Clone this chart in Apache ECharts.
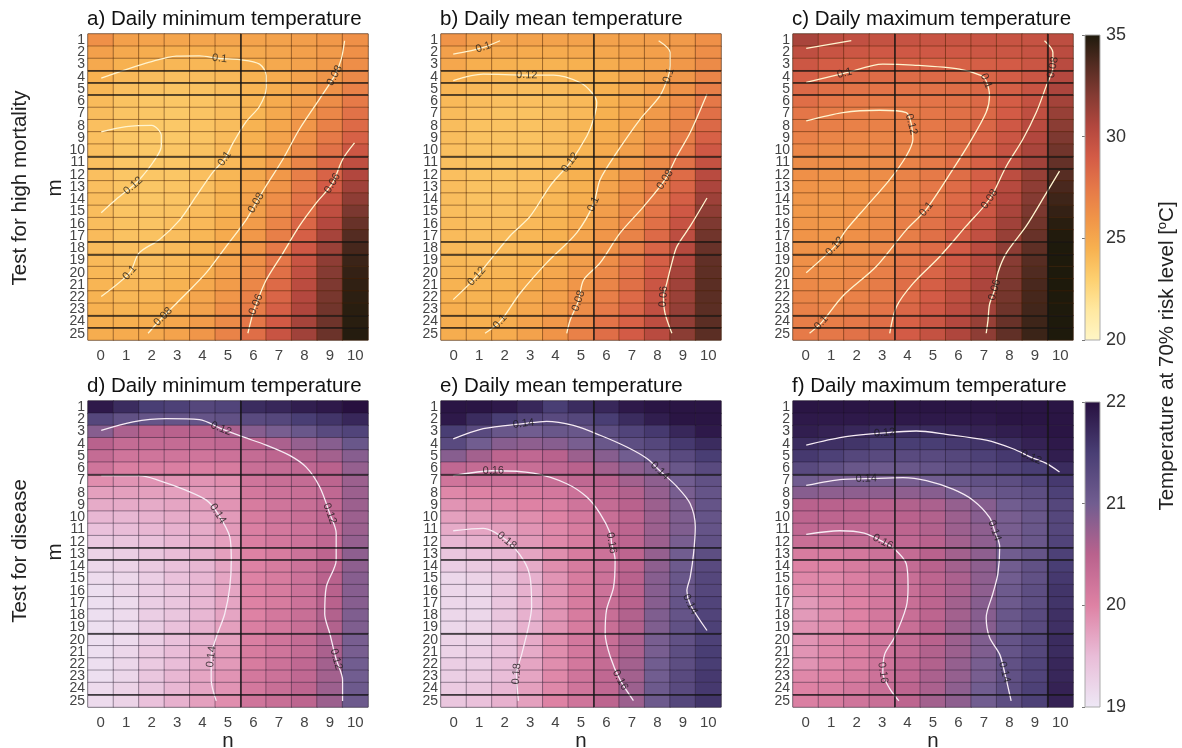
<!DOCTYPE html>
<html><head><meta charset="utf-8">
<script src="https://cdn.jsdelivr.net/npm/echarts@6/dist/echarts.min.js"></script>
<style>html,body{margin:0;padding:0;background:#fff}#c{width:1182px;height:748px}</style>
</head><body><div id="c"></div>
<script>
const nLabels = ['0','1','2','3','4','5','6','7','8','9','10'];
const mLabels = ['1','2','3','4','5','6','7','8','9','10','11','12','13','14','15','16','17','18','19','20','21','22','23','24','25'];
const panelTitles = ['a) Daily minimum temperature','b) Daily mean temperature','c) Daily maximum temperature','d) Daily minimum temperature','e) Daily mean temperature','f) Daily maximum temperature'];
const topTicks = [20,35,5];
const botTicks = [19,22,1];
const colorsTop = ['#FFF6C6','#FFE8A0','#FDD070','#F7B150','#F09448','#E57848','#D35B46','#B2473E','#853B33','#542C22','#1E1A0C'];
const colorsBottom = ['#EEE8F6','#E9BDD8','#DE82A4','#B9628D','#715D90','#493E74','#27103F'];

// rows m=1..25, columns n=0..10
const tminMortality = [
[26.2,25.4,25.2,25.1,25.1,25.1,25.2,25.3,25.5,25.8,26.2],
[25.4,24.9,24.7,24.6,24.6,24.7,24.9,25.1,25.4,25.7,26.2],
[24.9,24.5,24.3,24.2,24.2,24.4,24.6,24.9,25.3,25.7,26.3],
[24.5,24.1,23.9,23.8,23.9,24.1,24.4,24.8,25.3,25.9,26.6],
[24.2,23.8,23.7,23.6,23.7,23.9,24.3,24.7,25.3,26.1,27.0],
[24.0,23.7,23.5,23.5,23.6,23.9,24.3,24.8,25.5,26.4,27.4],
[23.9,23.6,23.5,23.4,23.6,23.9,24.3,24.9,25.7,26.7,27.8],
[23.8,23.5,23.4,23.4,23.6,23.9,24.4,25.0,25.9,27.0,28.2],
[23.8,23.5,23.4,23.4,23.6,24.0,24.5,25.2,26.2,27.4,28.7],
[23.8,23.5,23.4,23.5,23.7,24.1,24.6,25.4,26.5,27.8,29.3],
[23.8,23.5,23.4,23.5,23.7,24.1,24.7,25.6,26.8,28.2,29.9],
[23.8,23.5,23.5,23.5,23.8,24.2,24.9,25.8,27.1,28.6,30.5],
[23.8,23.6,23.5,23.6,23.8,24.3,25.0,26.0,27.4,29.0,31.1],
[23.9,23.6,23.5,23.6,23.9,24.4,25.2,26.3,27.7,29.5,31.7],
[23.9,23.6,23.6,23.7,24.0,24.5,25.4,26.5,28.0,29.9,32.3],
[23.9,23.7,23.6,23.8,24.1,24.7,25.6,26.8,28.4,30.4,32.9],
[24.0,23.7,23.7,23.9,24.2,24.8,25.8,27.1,28.8,30.9,33.5],
[24.0,23.8,23.8,24.0,24.4,25.0,26.0,27.4,29.2,31.3,33.9],
[24.1,23.9,23.9,24.1,24.5,25.2,26.2,27.6,29.5,31.7,34.2],
[24.2,24.0,24.0,24.2,24.7,25.4,26.4,27.9,29.8,32.0,34.4],
[24.3,24.1,24.1,24.4,24.9,25.6,26.7,28.2,30.1,32.2,34.5],
[24.4,24.2,24.3,24.6,25.1,25.9,27.0,28.5,30.4,32.4,34.6],
[24.5,24.4,24.5,24.8,25.3,26.2,27.3,28.8,30.6,32.6,34.7],
[24.6,24.6,24.7,25.0,25.6,26.5,27.6,29.1,30.9,32.7,34.7],
[24.7,24.8,24.9,25.2,25.9,26.9,28.0,29.5,31.1,32.8,34.8]];
const tmeanMortality = [
[26.0,25.5,25.3,25.3,25.3,25.3,25.3,25.4,25.5,25.7,26.2],
[25.4,25.0,24.9,24.8,24.8,24.9,25.0,25.2,25.4,25.7,26.3],
[25.0,24.6,24.5,24.4,24.4,24.5,24.7,25.0,25.3,25.8,26.5],
[24.6,24.3,24.2,24.1,24.1,24.3,24.5,24.9,25.3,25.9,26.8],
[24.3,24.1,24.0,23.9,24.0,24.2,24.5,24.9,25.4,26.1,27.1],
[24.1,23.9,23.8,23.8,23.9,24.1,24.5,24.9,25.5,26.3,27.5],
[24.0,23.8,23.7,23.7,23.9,24.1,24.5,25.0,25.7,26.6,27.9],
[23.9,23.7,23.7,23.7,23.9,24.2,24.6,25.1,25.9,26.9,28.3],
[23.9,23.7,23.7,23.7,23.9,24.2,24.7,25.3,26.1,27.2,28.7],
[23.8,23.7,23.7,23.7,23.9,24.3,24.8,25.4,26.3,27.5,29.2],
[23.8,23.7,23.7,23.8,24.0,24.4,24.9,25.6,26.5,27.8,29.7],
[23.8,23.7,23.7,23.8,24.0,24.5,25.0,25.8,26.8,28.1,30.2],
[23.9,23.7,23.7,23.8,24.1,24.5,25.2,26.0,27.0,28.5,30.7],
[23.9,23.7,23.8,23.9,24.2,24.6,25.3,26.2,27.3,28.8,31.2],
[23.9,23.8,23.8,24.0,24.3,24.8,25.5,26.4,27.6,29.2,31.7],
[24.0,23.8,23.9,24.1,24.4,24.9,25.7,26.6,27.9,29.6,32.2],
[24.0,23.9,24.0,24.2,24.5,25.1,25.9,26.9,28.2,30.0,32.6],
[24.1,24.0,24.1,24.3,24.7,25.3,26.1,27.1,28.5,30.3,32.9],
[24.2,24.1,24.2,24.4,24.8,25.5,26.3,27.4,28.8,30.6,33.1],
[24.3,24.2,24.3,24.6,25.0,25.7,26.6,27.7,29.1,30.9,33.2],
[24.4,24.3,24.4,24.7,25.2,25.9,26.8,27.9,29.4,31.1,33.3],
[24.5,24.4,24.5,24.9,25.4,26.2,27.1,28.2,29.6,31.3,33.3],
[24.6,24.5,24.6,25.0,25.6,26.4,27.4,28.5,29.8,31.5,33.3],
[24.7,24.6,24.7,25.2,25.8,26.7,27.7,28.7,30.0,31.6,33.3],
[24.7,24.7,24.8,25.3,26.0,27.0,28.0,29.0,30.2,31.8,33.3]];
const tmaxMortality = [
[30.8,30.0,29.8,29.7,29.6,29.5,29.5,29.5,29.5,29.6,30.0],
[29.9,29.5,29.3,29.2,29.2,29.2,29.2,29.3,29.4,29.6,30.1],
[29.3,28.9,28.7,28.6,28.6,28.6,28.7,28.8,29.0,29.4,30.2],
[28.8,28.4,28.2,28.1,28.1,28.2,28.3,28.5,28.9,29.4,30.4],
[28.3,27.9,27.7,27.7,27.7,27.8,28.0,28.3,28.8,29.5,30.7],
[28.0,27.6,27.4,27.4,27.5,27.7,27.9,28.3,28.9,29.7,31.0],
[27.6,27.3,27.2,27.2,27.3,27.6,27.9,28.3,29.0,29.9,31.4],
[27.3,27.1,27.0,27.0,27.2,27.5,27.9,28.4,29.2,30.2,31.8],
[27.0,26.8,26.7,26.8,27.0,27.4,27.9,28.5,29.4,30.5,32.2],
[26.7,26.5,26.5,26.7,26.9,27.4,27.9,28.6,29.6,30.8,32.6],
[26.4,26.3,26.3,26.5,26.9,27.4,28.0,28.7,29.8,31.1,33.0],
[26.2,26.1,26.1,26.4,26.9,27.4,28.0,28.8,30.0,31.4,33.4],
[26.0,25.9,26.0,26.3,26.9,27.5,28.1,29.0,30.3,31.7,33.8],
[25.9,25.8,26.0,26.3,26.9,27.5,28.2,29.1,30.5,32.0,34.1],
[25.8,25.8,26.0,26.4,27.0,27.6,28.4,29.3,30.8,32.3,34.4],
[25.9,25.8,26.1,26.5,27.1,27.8,28.6,29.6,31.1,32.6,34.7],
[26.0,25.9,26.2,26.6,27.2,27.9,28.8,29.8,31.4,32.9,34.9],
[26.1,26.0,26.3,26.7,27.4,28.1,29.0,30.1,31.7,33.2,35.0],
[26.2,26.2,26.5,26.9,27.6,28.3,29.2,30.3,31.9,33.4,35.0],
[26.4,26.3,26.6,27.1,27.8,28.5,29.4,30.5,32.1,33.6,35.0],
[26.6,26.5,26.8,27.3,28.0,28.8,29.7,30.7,32.3,33.8,35.0],
[26.8,26.7,27.0,27.5,28.2,29.0,29.9,30.9,32.5,33.9,35.0],
[27.0,26.9,27.2,27.7,28.4,29.2,30.1,31.1,32.7,34.0,35.0],
[27.2,27.2,27.5,28.0,28.7,29.4,30.4,31.4,32.9,34.1,35.0],
[27.4,27.5,27.8,28.3,29.0,29.7,30.6,31.7,33.1,34.2,35.0]];
const tminDisease = [
[21.9,21.7,21.5,21.45,21.35,21.4,21.7,21.75,21.85,21.9,22.0],
[21.35,21.2,21.15,21.15,21.15,21.2,21.3,21.35,21.5,21.6,21.75],
[20.85,20.6,20.5,20.5,20.5,20.6,20.85,20.95,21.1,21.3,21.4],
[20.5,20.35,20.35,20.35,20.35,20.4,20.5,20.6,20.75,20.85,21.1],
[20.35,20.2,20.2,20.2,20.2,20.25,20.35,20.45,20.55,20.65,20.85],
[20.2,20.05,20.05,20.05,20.05,20.1,20.3,20.35,20.4,20.5,20.75],
[19.9,19.85,19.85,19.85,19.85,19.9,20.2,20.3,20.35,20.45,20.7],
[19.75,19.75,19.75,19.75,19.8,19.85,20.15,20.25,20.3,20.4,20.7],
[19.65,19.65,19.65,19.7,19.75,19.85,20.1,20.2,20.3,20.4,20.7],
[19.55,19.55,19.6,19.65,19.7,19.8,20.1,20.2,20.3,20.4,20.7],
[19.45,19.5,19.55,19.6,19.65,19.8,20.05,20.15,20.25,20.4,20.7],
[19.35,19.4,19.45,19.55,19.65,19.75,20.05,20.15,20.25,20.4,20.75],
[19.25,19.3,19.4,19.5,19.6,19.75,20.0,20.1,20.25,20.45,20.8],
[19.2,19.25,19.35,19.45,19.55,19.7,20.0,20.1,20.25,20.45,20.8],
[19.15,19.2,19.3,19.45,19.55,19.7,20.0,20.1,20.25,20.5,20.85],
[19.1,19.2,19.3,19.4,19.55,19.7,20.0,20.1,20.25,20.5,20.85],
[19.1,19.15,19.3,19.4,19.55,19.7,20.0,20.1,20.25,20.5,20.85],
[19.1,19.15,19.3,19.4,19.55,19.7,20.0,20.15,20.3,20.55,20.9],
[19.1,19.15,19.3,19.45,19.6,19.75,20.05,20.15,20.3,20.55,20.9],
[19.1,19.15,19.3,19.45,19.6,19.75,20.05,20.2,20.35,20.6,20.95],
[19.1,19.2,19.35,19.5,19.65,19.8,20.1,20.2,20.35,20.6,20.95],
[19.1,19.2,19.35,19.5,19.65,19.8,20.1,20.25,20.4,20.65,21.0],
[19.1,19.2,19.4,19.55,19.7,19.85,20.15,20.25,20.4,20.65,21.0],
[19.15,19.25,19.4,19.55,19.7,19.85,20.15,20.3,20.45,20.7,21.05],
[19.15,19.25,19.45,19.6,19.75,19.9,20.2,20.3,20.45,20.7,21.05]];
const tmeanDisease = [
[21.95,21.95,21.9,21.75,21.5,21.7,21.75,21.9,21.95,21.95,21.95],
[21.9,21.7,21.5,21.35,21.3,21.35,21.5,21.7,21.85,21.95,21.95],
[21.5,21.3,21.1,21.0,21.1,21.1,21.25,21.4,21.55,21.75,21.9],
[21.3,21.0,20.85,20.8,20.85,20.95,21.1,21.25,21.35,21.55,21.7],
[20.85,20.65,20.45,20.4,20.5,20.7,20.85,21.0,21.15,21.3,21.5],
[20.4,20.35,20.3,20.3,20.4,20.5,20.65,20.8,20.9,21.1,21.3],
[20.2,20.25,20.25,20.25,20.3,20.4,20.5,20.65,20.8,21.0,21.2],
[19.95,20.0,20.05,20.1,20.15,20.25,20.4,20.55,20.75,20.95,21.15],
[19.85,19.9,19.95,20.0,20.05,20.2,20.35,20.5,20.7,20.9,21.15],
[19.75,19.8,19.85,19.9,20.0,20.15,20.3,20.45,20.7,20.9,21.15],
[19.65,19.7,19.75,19.85,19.95,20.1,20.3,20.45,20.7,20.9,21.15],
[19.55,19.6,19.7,19.8,19.95,20.1,20.3,20.45,20.7,20.95,21.2],
[19.4,19.45,19.55,19.7,19.9,20.1,20.25,20.45,20.75,21.0,21.25],
[19.3,19.35,19.45,19.65,19.9,20.1,20.25,20.45,20.8,21.05,21.3],
[19.2,19.25,19.4,19.6,19.85,20.1,20.25,20.5,20.85,21.1,21.35],
[19.2,19.2,19.4,19.6,19.85,20.1,20.25,20.5,20.85,21.1,21.35],
[19.2,19.2,19.4,19.6,19.85,20.1,20.3,20.5,20.85,21.15,21.4],
[19.2,19.2,19.4,19.6,19.85,20.1,20.3,20.55,20.9,21.15,21.4],
[19.2,19.25,19.4,19.6,19.85,20.1,20.3,20.55,20.9,21.2,21.45],
[19.25,19.25,19.45,19.65,19.9,20.15,20.3,20.6,20.95,21.2,21.45],
[19.25,19.3,19.45,19.65,19.9,20.15,20.35,20.6,20.95,21.25,21.5],
[19.3,19.3,19.5,19.7,19.9,20.15,20.35,20.65,21.0,21.25,21.5],
[19.3,19.35,19.5,19.7,19.95,20.2,20.4,20.65,21.0,21.3,21.55],
[19.35,19.4,19.55,19.75,19.95,20.2,20.4,20.7,21.05,21.3,21.55],
[19.4,19.45,19.6,19.75,20.0,20.2,20.45,20.7,21.05,21.35,21.6]];
const tmaxDisease = [
[21.95,21.95,21.95,21.95,21.95,21.95,21.95,21.95,21.95,21.95,21.95],
[21.9,21.9,21.9,21.9,21.9,21.9,21.9,21.9,21.95,21.95,21.95],
[21.85,21.8,21.75,21.7,21.7,21.7,21.75,21.8,21.85,21.9,21.95],
[21.7,21.65,21.6,21.5,21.5,21.5,21.55,21.6,21.7,21.8,21.9],
[21.55,21.45,21.35,21.3,21.3,21.3,21.35,21.45,21.55,21.7,21.85],
[21.3,21.2,21.1,21.05,21.1,21.15,21.25,21.3,21.4,21.5,21.7],
[21.0,20.95,20.95,20.95,20.95,21.0,21.1,21.2,21.25,21.4,21.55],
[20.85,20.8,20.8,20.8,20.8,20.85,20.95,21.05,21.15,21.25,21.45],
[20.5,20.5,20.5,20.5,20.55,20.6,20.75,20.85,21.0,21.15,21.35],
[20.45,20.45,20.45,20.45,20.5,20.55,20.7,20.85,20.95,21.1,21.35],
[20.4,20.4,20.4,20.4,20.45,20.55,20.7,20.8,20.95,21.1,21.35],
[20.3,20.3,20.35,20.35,20.4,20.5,20.65,20.8,20.95,21.1,21.4],
[20.1,20.1,20.15,20.25,20.35,20.5,20.65,20.8,21.0,21.15,21.45],
[20.0,20.0,20.1,20.2,20.35,20.5,20.65,20.8,21.0,21.2,21.5],
[19.95,19.95,20.05,20.2,20.3,20.45,20.6,20.8,21.0,21.2,21.55],
[19.9,19.95,20.05,20.15,20.3,20.45,20.6,20.8,21.05,21.25,21.6],
[19.8,19.9,20.0,20.15,20.3,20.45,20.65,20.85,21.05,21.25,21.6],
[19.8,19.9,20.0,20.15,20.3,20.45,20.65,20.85,21.1,21.3,21.65],
[19.85,19.9,20.0,20.15,20.3,20.5,20.7,20.85,21.1,21.3,21.65],
[19.85,19.95,20.05,20.2,20.35,20.5,20.7,20.9,21.15,21.35,21.7],
[19.85,19.95,20.05,20.2,20.35,20.55,20.7,20.9,21.15,21.35,21.7],
[19.85,19.95,20.05,20.2,20.4,20.55,20.75,20.95,21.2,21.4,21.75],
[19.95,20.0,20.1,20.25,20.4,20.6,20.75,20.95,21.2,21.4,21.75],
[20.0,20.05,20.15,20.3,20.45,20.6,20.8,21.0,21.25,21.45,21.8],
[20.05,20.1,20.2,20.3,20.45,20.65,20.8,21.0,21.25,21.45,21.8]];

// contour lines: points as [n, m]; labels = indices of points carrying the level label
const contoursA = [
 {level:'0.1', pts:[[0.02,4.1],[0.87,3.5],[1.92,2.8],[2.97,2.3],[3.88,2.28],[4.67,2.5],[5.46,2.6],[6.24,2.96],[6.5,3.9],[6.5,4.9],[6.24,6.4],[5.7,7.7],[5.2,9.4],[4.87,10.7],[4.4,11.8],[3.75,13.75],[3.1,15.7],[2.3,17.3],[1.5,18.4],[1.14,20.0],[0.02,21.95]], labels:[5,13,19]},
 {level:'0.12', pts:[[0.02,8.5],[1.0,8.07],[2.0,7.96],[2.38,8.8],[2.38,9.65],[2.05,11.0],[1.6,12.2],[1.27,12.9],[0.61,14.0],[0.02,15.1]], labels:[7]},
 {level:'0.08', pts:[[1.86,24.95],[2.45,23.6],[3.36,21.7],[4.15,20.0],[4.93,17.85],[5.72,15.66],[6.1,14.3],[6.5,12.9],[7.15,10.75],[7.8,8.3],[8.6,5.8],[9.19,3.9],[9.45,2.55],[9.58,1.05]], labels:[1,6,11]},
 {level:'0.06', pts:[[5.78,24.95],[5.98,23.3],[6.1,22.6],[6.5,20.6],[7.16,18.4],[7.8,16.2],[8.47,14.3],[9.1,12.7],[9.5,10.75],[9.97,9.4]], labels:[2,7]}
];
const contoursB = [
 {level:'0.1', pts:[[-0.02,2.14],[0.6,1.9],[1.16,1.6],[1.82,1.05]], labels:[2]},
 {level:'0.12', pts:[[-0.02,4.3],[1.16,3.78],[2.87,3.86],[3.92,3.86],[4.96,4.46],[5.42,5.28],[5.62,6.1],[5.49,7.47],[5.23,8.83],[4.57,11.0],[3.79,12.9],[3.0,15.4],[2.21,17.0],[0.9,20.3],[-0.02,22.2]], labels:[2,9,13]},
 {level:'0.1', pts:[[8.05,1.05],[8.5,2.0],[8.5,3.1],[8.44,3.9],[8.1,5.55],[7.32,7.47],[6.4,10.2],[5.75,12.4],[5.49,14.4],[4.83,16.75],[3.65,19.2],[2.6,21.7],[1.82,24.0],[1.23,24.95]], labels:[3,8,12]},
 {level:'0.08', pts:[[9.95,5.4],[9.29,8.55],[8.77,10.47],[8.3,12.4],[7.46,14.6],[6.54,16.75],[5.75,19.2],[5.1,20.6],[4.9,22.3],[4.57,23.9],[4.44,24.95]], labels:[3,8]},
 {level:'0.06', pts:[[9.95,13.9],[9.29,16.2],[8.77,17.85],[8.57,19.2],[8.37,20.85],[8.24,21.95],[8.3,23.3],[8.57,24.95]], labels:[5]}
];
const contoursC = [
 {level:'0.12', pts:[[0.02,1.67],[1.79,1.05]], labels:[]},
 {level:'0.1', pts:[[0.02,4.46],[1.53,3.7],[3.03,2.96],[4.21,3.04],[6.04,3.37],[6.9,3.9],[7.09,4.33],[7.22,5.55],[7.09,6.9],[6.44,9.38],[5.78,11.56],[4.74,14.8],[3.95,16.5],[2.77,19.5],[1.46,21.9],[0.61,24.1],[0.15,24.95]], labels:[1,6,11,15]},
 {level:'0.12', pts:[[0.02,7.6],[1.46,6.92],[2.9,6.73],[3.95,6.92],[4.15,7.88],[4.21,9.1],[3.95,10.47],[3.3,12.4],[2.38,14.6],[1.59,16.5],[1.14,17.85],[0.02,20.0]], labels:[4,10]},
 {level:'0.08', pts:[[9.38,1.05],[9.71,2.0],[9.71,3.23],[9.45,4.74],[9.06,6.9],[8.53,9.1],[7.88,11.3],[7.22,14.0],[6.3,16.2],[5.26,18.7],[4.21,20.9],[3.56,22.8],[3.3,24.95]], labels:[2,7]},
 {level:'0.06', pts:[[9.97,11.7],[9.45,13.5],[8.66,16.2],[7.88,18.4],[7.55,20.0],[7.42,21.4],[7.22,22.6],[7.16,23.9],[7.09,24.95]], labels:[5]}
];
const contoursD = [
 {level:'0.12', pts:[[0.02,2.9],[1.27,2.2],[2.58,1.94],[3.88,2.03],[4.73,2.76],[5.59,3.44],[6.5,4.1],[7.42,4.94],[8.07,5.9],[8.6,7.5],[9.0,9.7],[9.25,11.3],[9.25,13.5],[8.86,15.7],[8.8,17.9],[9.0,19.5],[9.25,21.6],[9.5,23.3],[9.5,25.0]], labels:[4,10,16]},
 {level:'0.14', pts:[[0.02,6.6],[1.53,6.6],[2.3,7.0],[3.36,7.8],[4.15,8.6],[4.6,9.7],[5.07,11.6],[5.13,13.5],[5.07,15.7],[4.87,17.9],[4.54,19.8],[4.34,21.4],[4.34,23.3],[4.54,25.0]], labels:[5,11]}
];
const contoursE = [
 {level:'0.14', pts:[[-0.02,3.6],[1.16,2.76],[2.74,2.35],[3.65,2.16],[4.7,2.5],[5.75,3.3],[6.8,4.26],[7.59,5.2],[8.1,6.2],[8.77,7.5],[9.29,8.9],[9.49,10.8],[9.42,13.0],[9.29,14.9],[9.16,16.0],[9.29,17.1],[9.95,19.25]], labels:[2,8,15]},
 {level:'0.16', pts:[[-0.02,6.6],[1.56,6.2],[3.13,6.4],[4.44,7.26],[5.23,8.35],[5.75,9.7],[6.15,11.3],[6.2,12.1],[6.34,13.5],[6.28,15.7],[6.0,17.6],[5.95,19.5],[6.15,21.4],[6.54,23.3],[7.06,24.97]], labels:[1,7,13]},
 {level:'0.18', pts:[[-0.02,11.1],[1.16,10.9],[2.08,11.9],[2.74,13.5],[3.0,14.9],[3.06,17.3],[2.93,19.0],[2.67,21.2],[2.47,22.8],[2.54,25.0]], labels:[2,8]}
];
const contoursF = [
 {level:'0.12', pts:[[0.02,4.1],[1.46,3.45],[3.1,3.1],[4.34,2.95],[5.52,3.22],[7.09,3.7],[8.14,4.4],[8.86,5.1],[9.45,5.6],[9.97,6.3]], labels:[2,7]},
 {level:'0.14', pts:[[0.02,7.4],[1.46,6.9],[2.38,6.85],[3.82,6.76],[4.74,7.0],[5.78,7.7],[6.57,8.6],[7.22,10.0],[7.42,11.1],[7.62,12.4],[7.55,14.6],[7.35,16.25],[7.09,18.2],[7.22,19.8],[7.62,21.2],[7.81,22.65],[8.07,25.0]], labels:[2,8,15]},
 {level:'0.16', pts:[[0.02,11.4],[1.33,11.1],[2.3,11.3],[3.03,12.0],[3.49,12.6],[3.95,13.8],[4.02,15.7],[3.95,17.3],[3.49,19.8],[3.1,21.2],[3.03,22.7],[3.3,24.0],[3.66,25.0]], labels:[3,10]}
];
// darker (resampled) cell boundaries: row boundary after m=k, column boundary after n=c
const darkRowsTop = [3,4,5,10,11,17,18,23,24];
const darkRowsBottom = [6,12,13,19,24];
const darkCols = [[5],[5],[3,9],[5],[5],[3,9]];

const FONT = '"Liberation Sans", Arial, Helvetica, sans-serif';
const colX = [88, 441, 793], rowY = [34, 401], W = 280, H = 306;
const CBX = 1085, CBW = 15;

const panels = [
 {data:tminMortality, contours:contoursA},
 {data:tmeanMortality, contours:contoursB},
 {data:tmaxMortality, contours:contoursC},
 {data:tminDisease, contours:contoursD},
 {data:tmeanDisease, contours:contoursE},
 {data:tmaxDisease, contours:contoursF}
];

const chart = echarts.init(document.getElementById('c'), null, {renderer:'canvas'});
const grid = [], xAxis = [], yAxis = [], series = [], title = [];
const heatTop = [], heatBot = [];

panels.forEach((p, i) => {
  const r = Math.floor(i / 3), c = i % 3;
  const top = r === 0;
  grid.push({left: colX[c], top: rowY[r], width: W, height: H, show: true, borderColor: '#777', borderWidth: 1, backgroundColor: 'transparent'});
  xAxis.push({type: 'category', gridIndex: i, data: nLabels, axisLine: {show: false}, axisTick: {show: false}, splitLine: {show: false},
    axisLabel: {interval: 0, fontSize: 15, color: '#444', margin: 8, fontFamily: FONT}});
  xAxis.push({type: 'value', gridIndex: i, min: -0.5, max: 10.5, show: false});
  yAxis.push({type: 'category', gridIndex: i, data: mLabels, inverse: true, axisLine: {show: false}, axisTick: {show: false}, splitLine: {show: false},
    axisLabel: {interval: 0, fontSize: 14, color: '#444', margin: 3, fontFamily: FONT}});
  yAxis.push({type: 'value', gridIndex: i, min: 0.5, max: 25.5, inverse: true, show: false});
  title.push({text: panelTitles[i], left: colX[c] - 1, top: rowY[r] - 25, padding: 0,
    textStyle: {fontSize: 20.5, fontWeight: 'normal', color: '#111', fontFamily: FONT}});

  const hd = [];
  p.data.forEach((row, mi) => row.forEach((v, ni) => hd.push([ni, mi, v])));
  (top ? heatTop : heatBot).push(series.length);
  series.push({type: 'heatmap', xAxisIndex: 2 * i, yAxisIndex: 2 * i, data: hd, silent: true, z: 2,
    itemStyle: {borderColor: top ? 'rgba(70,30,0,0.45)' : 'rgba(30,20,40,0.4)', borderWidth: 1},
    emphasis: {disabled: true}});

  const lineColor = top ? '#fff4cf' : '#f7ecf5';
  p.contours.forEach((ct, k) => {
    const s = {type: 'line', xAxisIndex: 2 * i + 1, yAxisIndex: 2 * i + 1, data: ct.pts, showSymbol: false, symbol: 'none',
      smooth: 0.3, silent: true, z: 4, lineStyle: {color: lineColor, width: 1.3}};
    if (k === 0) {
      const rows = top ? darkRowsTop : darkRowsBottom;
      s.markLine = {silent: true, symbol: 'none', animation: false, label: {show: false},
        lineStyle: {color: '#151515', width: 1.6, type: 'solid', opacity: 0.85},
        data: rows.map(v => ({yAxis: v + 0.5})).concat(darkCols[i].map(v => ({xAxis: v + 0.5})))};
      s.z = 3;
    }
    series.push(s);
  });
  series.push({id: 'lab' + i, type: 'scatter', xAxisIndex: 2 * i + 1, yAxisIndex: 2 * i + 1, symbolSize: 1, silent: true, z: 6,
    itemStyle: {color: 'rgba(0,0,0,0)'},
    label: {show: true, position: 'inside', fontSize: 11, color: '#1a1a1a', fontFamily: FONT},
    data: []});
});

// colour bar axes
[[topTicks, rowY[0]], [botTicks, rowY[1]]].forEach((cb, j) => {
  const gi = 6 + j;
  grid.push({left: CBX, top: cb[1] + 1, width: CBW, height: H - 1});
  xAxis.push({type: 'value', gridIndex: gi, show: false, min: 0, max: 1});
  yAxis.push({type: 'value', gridIndex: gi, position: 'right', min: cb[0][0], max: cb[0][1], interval: cb[0][2],
    axisLine: {show: false}, splitLine: {show: false},
    axisTick: {show: true, inside: true, length: 3, lineStyle: {color: '#777'}},
    axisLabel: {fontSize: 18, color: '#333', margin: 6, fontFamily: FONT}});
});

function gradient(colors) {
  return new echarts.graphic.LinearGradient(0, 1, 0, 0, colors.map((c, k) => ({offset: k / (colors.length - 1), color: c})));
}

const txt = (text, x, y, rot) => ({type: 'text', x, y, rotation: rot ? Math.PI / 2 : 0,
  style: {text, fontSize: 20.5, fontFamily: FONT, fill: '#222', textAlign: 'center', textVerticalAlign: 'middle'}});
const graphic = [
  {type: 'rect', shape: {x: CBX, y: rowY[0] + 1, width: CBW, height: H - 1}, style: {fill: gradient(colorsTop), stroke: '#aaa', lineWidth: 1}, z: 1},
  {type: 'rect', shape: {x: CBX, y: rowY[1] + 1, width: CBW, height: H - 1}, style: {fill: gradient(colorsBottom), stroke: '#aaa', lineWidth: 1}, z: 1},
  txt('Test for high mortality', 20, 188, true),
  txt('m', 55, 188, true),
  txt('Test for disease', 20, 551, true),
  txt('m', 55, 552, true),
  {type: 'text', x: 1167, y: 356, rotation: Math.PI / 2, style: {text: 'Temperature at 70% risk level [{s|o}C]', fontSize: 20.5, fontFamily: FONT, fill: '#222', textAlign: 'center', textVerticalAlign: 'middle',
    rich: {s: {fontSize: 13, fontFamily: FONT, fill: '#222', verticalAlign: 'top', lineHeight: 22}}}}
];
colX.forEach(x => graphic.push(txt('n', x + W / 2, 741, false)));

chart.setOption({
  animation: false,
  backgroundColor: '#fff',
  title, grid, xAxis, yAxis, series, graphic,
  visualMap: [
    {type: 'continuous', show: false, min: topTicks[0], max: topTicks[1], seriesIndex: heatTop, inRange: {color: colorsTop}},
    {type: 'continuous', show: false, min: botTicks[0], max: botTicks[1], seriesIndex: heatBot, inRange: {color: colorsBottom}}
  ]
});

// contour labels rotated along the line direction
const upd = [];
panels.forEach((p, i) => {
  const data = [];
  const finder = {xAxisIndex: 2 * i + 1, yAxisIndex: 2 * i + 1};
  p.contours.forEach(ct => {
    ct.labels.forEach(k => {
      const a = chart.convertToPixel(finder, ct.pts[Math.max(0, k - 1)]);
      const b = chart.convertToPixel(finder, ct.pts[Math.min(ct.pts.length - 1, k + 1)]);
      let ang = Math.atan2(-(b[1] - a[1]), b[0] - a[0]) * 180 / Math.PI;
      if (ang > 90) ang -= 180;
      if (ang < -90) ang += 180;
      data.push({value: ct.pts[k], label: {formatter: ct.level, rotate: ang}});
    });
  });
  upd.push({id: 'lab' + i, data});
});
chart.setOption({series: upd});
</script></body></html>
